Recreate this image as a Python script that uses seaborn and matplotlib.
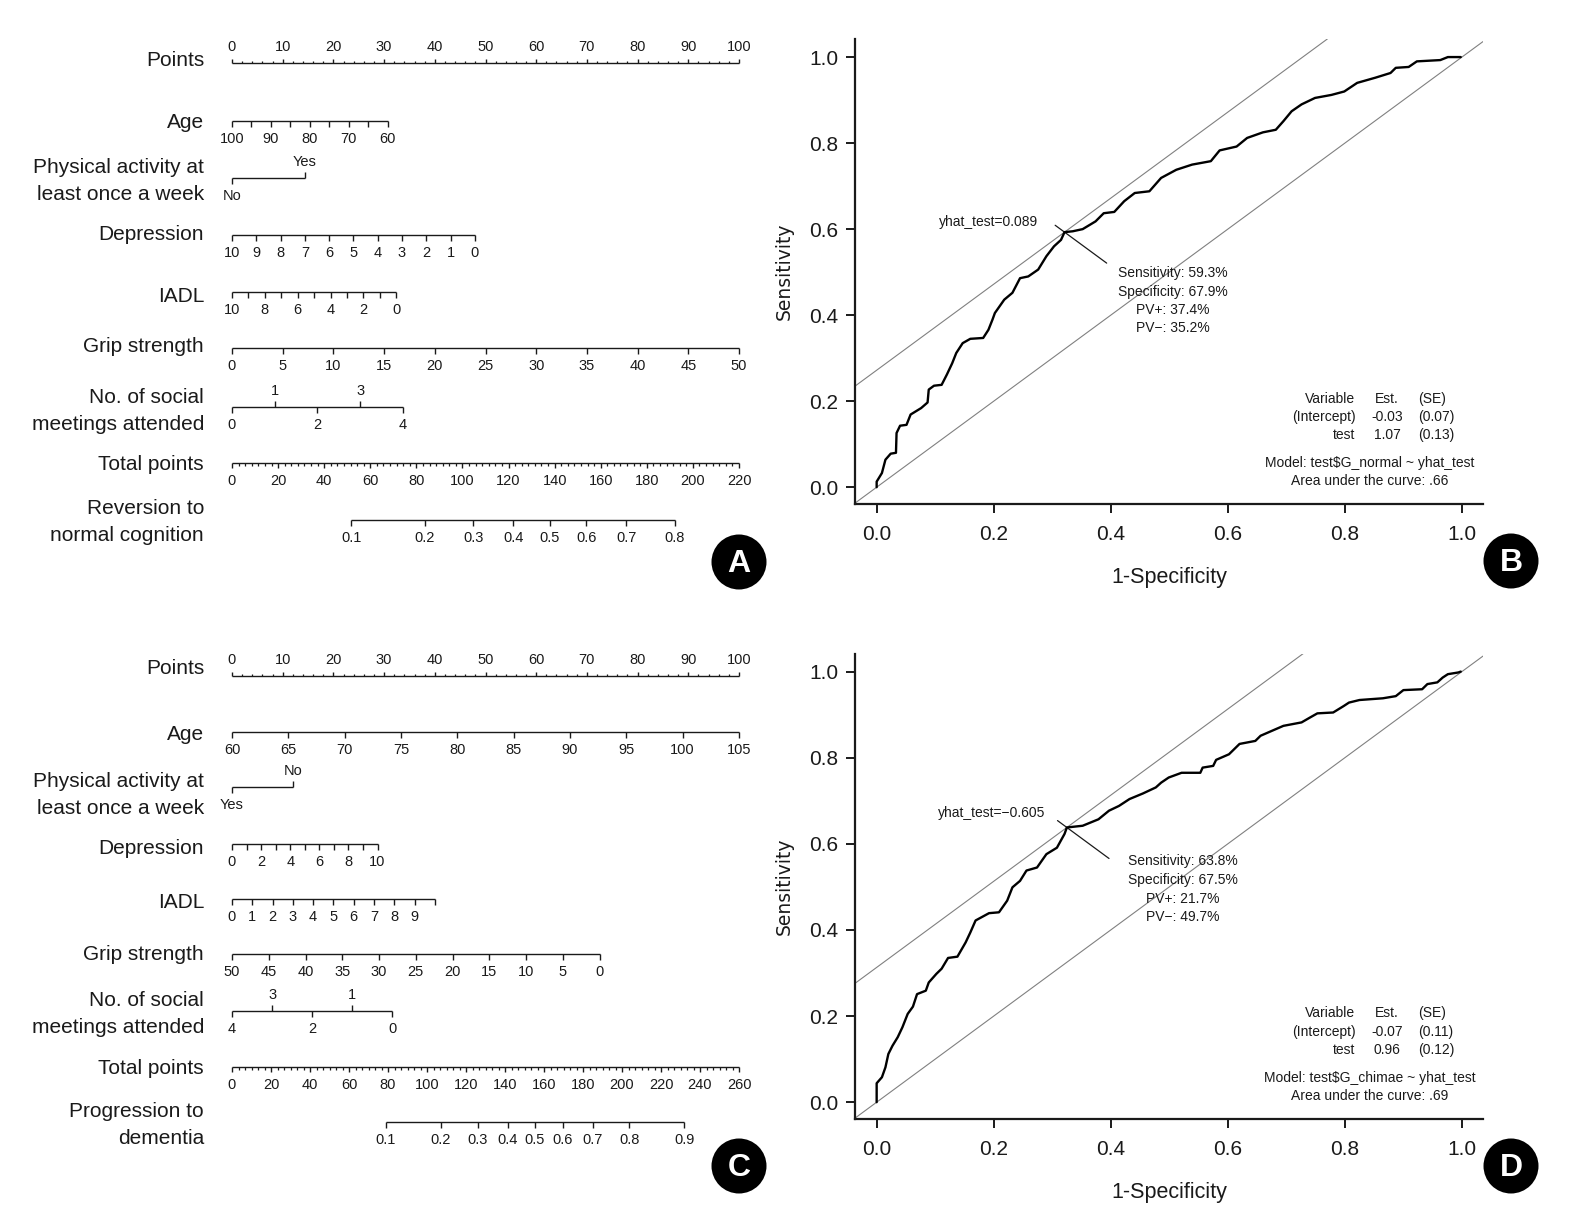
import numpy as np
import matplotlib
matplotlib.use("Agg")
import matplotlib.pyplot as plt
from matplotlib import font_manager
from matplotlib.patches import Circle
import seaborn as sns

sns.set_theme(style="ticks")
installed = {f.name for f in font_manager.fontManager.ttflist}
REG = "Liberation Sans" if "Liberation Sans" in installed else "DejaVu Sans"
HAS_NARROW = "Liberation Sans Narrow" in installed
NARROW = "Liberation Sans Narrow" if HAS_NARROW else REG
plt.rcParams["font.family"] = [REG, "DejaVu Sans"]

# ---------------- nomogram A : reversion to normal cognition ----------------
A_AGE_TICKS = [100, 95, 90, 85, 80, 75, 70, 65, 60]
A_AGE_LABELS = [100, 90, 80, 70, 60]
A_AGE_PTS = 30.7                      # points given at age 60 (age 100 = 0)
A_PA_LEVELS = ["No", "Yes"]
A_PA_PTS = [0.0, 14.4]
A_DEP_TICKS = [10, 9, 8, 7, 6, 5, 4, 3, 2, 1, 0]
A_DEP_PTS = 47.9                      # points at depression 0
A_IADL_TICKS = [10, 9, 8, 7, 6, 5, 4, 3, 2, 1, 0]
A_IADL_LABELS = [10, 8, 6, 4, 2, 0]
A_IADL_PTS = 32.4
A_GRIP_TICKS = [0, 5, 10, 15, 20, 25, 30, 35, 40, 45, 50]
A_GRIP_PTS = 100.0
A_SOC_TICKS = [0, 1, 2, 3, 4]
A_SOC_PTS = 33.7
A_TOTAL_TICKS = [0, 20, 40, 60, 80, 100, 120, 140, 160, 180, 200, 220]
A_PROB_TICKS = [0.1, 0.2, 0.3, 0.4, 0.5, 0.6, 0.7, 0.8]
A_LP = (137.9, 39.2)                  # total points at logit 0, per logit unit
A_NAMES = ["Points", "Age", "Physical activity at\nleast once a week", "Depression",
           "IADL", "Grip strength", "No. of social\nmeetings attended", "Total points",
           "Reversion to\nnormal cognition"]

# ---------------- nomogram C : progression to dementia ----------------
C_AGE_TICKS = [60, 65, 70, 75, 80, 85, 90, 95, 100, 105]
C_PA_LEVELS = ["Yes", "No"]
C_PA_PTS = [0.0, 12.0]
C_DEP_TICKS = [0, 1, 2, 3, 4, 5, 6, 7, 8, 9, 10]
C_DEP_LABELS = [0, 2, 4, 6, 8, 10]
C_DEP_PTS = 28.7
C_IADL_TICKS = [0, 1, 2, 3, 4, 5, 6, 7, 8, 9, 10]
C_IADL_LABELS = [0, 1, 2, 3, 4, 5, 6, 7, 8, 9]
C_IADL_PTS = 40.0
C_GRIP_TICKS = [50, 45, 40, 35, 30, 25, 20, 15, 10, 5, 0]
C_GRIP_PTS = 72.5
C_SOC_TICKS = [4, 3, 2, 1, 0]
C_SOC_PTS = 31.6
C_TOTAL_TICKS = [0, 20, 40, 60, 80, 100, 120, 140, 160, 180, 200, 220, 240, 260]
C_PROB_TICKS = [0.1, 0.2, 0.3, 0.4, 0.5, 0.6, 0.7, 0.8, 0.9]
C_LP = (155.4, 34.8)
C_NAMES = ["Points", "Age", "Physical activity at\nleast once a week", "Depression",
           "IADL", "Grip strength", "No. of social\nmeetings attended", "Total points",
           "Progression to\ndementia"]

# ---------------- ROC B ----------------
B_FPR = [0.0, 0.0, 0.009, 0.015, 0.024, 0.033, 0.034, 0.040, 0.051, 0.058, 0.076, 0.087,
         0.089, 0.098, 0.111, 0.120, 0.129, 0.136, 0.147, 0.160, 0.182, 0.191, 0.198,
         0.202, 0.218, 0.232, 0.245, 0.259, 0.276, 0.290, 0.303, 0.315, 0.321, 0.335,
         0.352, 0.374, 0.388, 0.406, 0.423, 0.441, 0.466, 0.486, 0.512, 0.539, 0.571,
         0.586, 0.615, 0.633, 0.660, 0.682, 0.695, 0.709, 0.726, 0.749, 0.777, 0.799,
         0.821, 0.852, 0.878, 0.887, 0.909, 0.923, 0.963, 0.976, 0.998]
B_TPR = [0.0, 0.013, 0.033, 0.064, 0.078, 0.080, 0.126, 0.143, 0.145, 0.169, 0.184, 0.197,
         0.227, 0.236, 0.238, 0.262, 0.288, 0.312, 0.335, 0.345, 0.347, 0.366, 0.390,
         0.405, 0.436, 0.452, 0.486, 0.490, 0.506, 0.537, 0.560, 0.575, 0.593, 0.595,
         0.600, 0.618, 0.637, 0.640, 0.665, 0.684, 0.688, 0.719, 0.738, 0.750, 0.758,
         0.783, 0.792, 0.812, 0.825, 0.831, 0.851, 0.874, 0.890, 0.905, 0.912, 0.920,
         0.940, 0.952, 0.963, 0.975, 0.977, 0.990, 0.993, 1.0, 1.0]
B_CUT = 0.089
B_STATS = [59.3, 67.9, 37.4, 35.2]    # sensitivity, specificity, PV+, PV-
B_COEF_NAMES = ["(Intercept)", "test"]
B_EST = [-0.03, 1.07]
B_SE = [0.07, 0.13]
B_MODEL = "test$G_normal ~ yhat_test"
B_AUC = 0.66

# ---------------- ROC D ----------------
D_FPR = [0.0, 0.0, 0.009, 0.015, 0.020, 0.027, 0.036, 0.044, 0.053, 0.062, 0.069, 0.084,
         0.089, 0.102, 0.111, 0.122, 0.138, 0.152, 0.160, 0.169, 0.192, 0.209, 0.223,
         0.232, 0.245, 0.256, 0.274, 0.290, 0.308, 0.321, 0.325, 0.352, 0.379, 0.397,
         0.414, 0.432, 0.455, 0.477, 0.486, 0.499, 0.521, 0.553, 0.557, 0.575, 0.580,
         0.602, 0.620, 0.647, 0.656, 0.678, 0.695, 0.726, 0.740, 0.753, 0.780, 0.798,
         0.807, 0.825, 0.865, 0.887, 0.900, 0.932, 0.941, 0.958, 0.967, 0.976, 0.994,
         0.998]
D_TPR = [0.0, 0.044, 0.058, 0.081, 0.112, 0.131, 0.151, 0.174, 0.205, 0.222, 0.251, 0.259,
         0.278, 0.298, 0.310, 0.335, 0.338, 0.371, 0.394, 0.422, 0.439, 0.441, 0.468,
         0.499, 0.514, 0.538, 0.545, 0.576, 0.591, 0.623, 0.638, 0.642, 0.657, 0.677,
         0.688, 0.704, 0.717, 0.731, 0.742, 0.754, 0.765, 0.765, 0.777, 0.781, 0.795,
         0.808, 0.832, 0.839, 0.851, 0.864, 0.874, 0.882, 0.893, 0.903, 0.905, 0.920,
         0.928, 0.934, 0.938, 0.943, 0.957, 0.959, 0.971, 0.975, 0.986, 0.994, 0.998,
         1.0]
D_CUT = -0.605
D_STATS = [63.8, 67.5, 21.7, 49.7]
D_COEF_NAMES = ["(Intercept)", "test"]
D_EST = [-0.07, 0.96]
D_SE = [0.11, 0.12]
D_MODEL = "test$G_chimae ~ yhat_test"
D_AUC = 0.69

ROC_TICKS = [0.0, 0.2, 0.4, 0.6, 0.8, 1.0]

# ---------------- styling ----------------
INK = "#1a1a1a"
TICK_FS = 12.5 if HAS_NARROW else 10.5
ANN_FS = 11.5 if HAS_NARROW else 10.0
ROW_FS = 15
PX_PER_PT = 5.07
X0_PX = 232
W, H = 1588, 1219


def to_pts(vals, v_start, v_end, p_end):
    v = np.asarray(vals, dtype=float)
    return (v - v_start) / (v_end - v_start) * p_end


def logit(p):
    p = np.asarray(p, dtype=float)
    return np.log(p / (1 - p))


def scale_row(ax, y, pos, labels, sides, ticklen=6, minor=None, minor_len=3):
    pos = np.asarray(pos, dtype=float)
    ax.hlines(y, pos.min(), pos.max(), color=INK, lw=1.0)
    for p, lab, s in zip(pos, labels, sides):
        d = ticklen if s == "below" else -ticklen
        ax.vlines(p, y, y + d, color=INK, lw=1.0)
        if lab != "":
            ty = y + 18 if s == "below" else y - 16
            ax.text(p, ty, lab, ha="center", va="center", fontsize=TICK_FS,
                    family=NARROW, color=INK)
    if minor is not None:
        d = minor_len if sides[0] == "below" else -minor_len
        ax.vlines(minor, y, y + d, color=INK, lw=0.9)


def nomogram(ax, rows_y, label_y, names, rows):
    for name, ly in zip(names, label_y):
        ax.text((204 - X0_PX) / PX_PER_PT, ly, name, ha="right", va="center",
                fontsize=ROW_FS, family=REG, color=INK, linespacing=1.5,
                multialignment="right")
    for y, r in zip(rows_y, rows):
        scale_row(ax, y, **r)


def labs(ticks, shown):
    return [str(t) if t in shown else "" for t in ticks]


fig = plt.figure(figsize=(W / 100, H / 100), dpi=100)
ax_nom = fig.add_axes([0, 0, 770 / W, 1])
ax_nom.set_xlim(-X0_PX / PX_PER_PT, (770 - X0_PX) / PX_PER_PT)
ax_nom.set_ylim(H, 0)
ax_nom.axis("off")

points_major = np.arange(0, 101, 10)
points_minor = [p for p in np.arange(0, 101, 2) if p % 10]


def total_minor(ticks, sub):
    out = []
    for a, b in zip(ticks[:-1], ticks[1:]):
        out.extend(np.linspace(a, b, sub + 1)[1:-1])
    return np.array(out)


a_total_pos = np.array(A_TOTAL_TICKS) * 100 / A_TOTAL_TICKS[-1]
a_prob_pos = (A_LP[0] + A_LP[1] * logit(A_PROB_TICKS)) * 100 / A_TOTAL_TICKS[-1]
rows_a = [
    dict(pos=points_major, labels=[str(v) for v in points_major], sides=["above"] * 11,
         ticklen=4, minor=points_minor, minor_len=2.5),
    dict(pos=to_pts(A_AGE_TICKS, 100, 60, A_AGE_PTS), labels=labs(A_AGE_TICKS, A_AGE_LABELS),
         sides=["below"] * len(A_AGE_TICKS)),
    dict(pos=A_PA_PTS, labels=A_PA_LEVELS, sides=["below", "above"]),
    dict(pos=to_pts(A_DEP_TICKS, 10, 0, A_DEP_PTS), labels=[str(v) for v in A_DEP_TICKS],
         sides=["below"] * len(A_DEP_TICKS)),
    dict(pos=to_pts(A_IADL_TICKS, 10, 0, A_IADL_PTS), labels=labs(A_IADL_TICKS, A_IADL_LABELS),
         sides=["below"] * len(A_IADL_TICKS)),
    dict(pos=to_pts(A_GRIP_TICKS, 0, 50, A_GRIP_PTS), labels=[str(v) for v in A_GRIP_TICKS],
         sides=["below"] * len(A_GRIP_TICKS)),
    dict(pos=to_pts(A_SOC_TICKS, 0, 4, A_SOC_PTS), labels=[str(v) for v in A_SOC_TICKS],
         sides=["below" if v % 2 == 0 else "above" for v in A_SOC_TICKS]),
    dict(pos=a_total_pos, labels=[str(v) for v in A_TOTAL_TICKS],
         sides=["below"] * len(A_TOTAL_TICKS), ticklen=5,
         minor=total_minor(a_total_pos, 7), minor_len=3),
    dict(pos=a_prob_pos, labels=[f"{p:.1f}" for p in A_PROB_TICKS],
         sides=["below"] * len(A_PROB_TICKS)),
]
nomogram(ax_nom, [63, 121, 178, 235, 292, 348, 407, 463, 520],
         [61, 123, 181, 234, 296, 347, 411, 465, 522], A_NAMES, rows_a)

c_total_pos = np.array(C_TOTAL_TICKS) * 100 / C_TOTAL_TICKS[-1]
c_prob_pos = (C_LP[0] + C_LP[1] * logit(C_PROB_TICKS)) * 100 / C_TOTAL_TICKS[-1]
rows_c = [
    dict(pos=points_major, labels=[str(v) for v in points_major], sides=["above"] * 11,
         ticklen=4, minor=points_minor, minor_len=2.5),
    dict(pos=to_pts(C_AGE_TICKS, 60, 105, 100), labels=[str(v) for v in C_AGE_TICKS],
         sides=["below"] * len(C_AGE_TICKS)),
    dict(pos=C_PA_PTS, labels=C_PA_LEVELS, sides=["below", "above"]),
    dict(pos=to_pts(C_DEP_TICKS, 0, 10, C_DEP_PTS), labels=labs(C_DEP_TICKS, C_DEP_LABELS),
         sides=["below"] * len(C_DEP_TICKS)),
    dict(pos=to_pts(C_IADL_TICKS, 0, 10, C_IADL_PTS), labels=labs(C_IADL_TICKS, C_IADL_LABELS),
         sides=["below"] * len(C_IADL_TICKS)),
    dict(pos=to_pts(C_GRIP_TICKS, 50, 0, C_GRIP_PTS), labels=[str(v) for v in C_GRIP_TICKS],
         sides=["below"] * len(C_GRIP_TICKS)),
    dict(pos=to_pts(C_SOC_TICKS, 4, 0, C_SOC_PTS), labels=[str(v) for v in C_SOC_TICKS],
         sides=["below" if v % 2 == 0 else "above" for v in C_SOC_TICKS]),
    dict(pos=c_total_pos, labels=[str(v) for v in C_TOTAL_TICKS],
         sides=["below"] * len(C_TOTAL_TICKS), ticklen=5,
         minor=total_minor(c_total_pos, 6), minor_len=3),
    dict(pos=c_prob_pos, labels=[f"{p:.1f}" for p in C_PROB_TICKS],
         sides=["below"] * len(C_PROB_TICKS)),
]
nomogram(ax_nom, [676, 732, 787, 844, 899, 954, 1011, 1067, 1122],
         [668, 735, 795, 849, 903, 955, 1014, 1069, 1125], C_NAMES, rows_c)


def roc_panel(ax, fpr, tpr, cut, stats, names, est, se, model, auc, cut_txt_xy, stat_xy):
    sens, spec = stats[0] / 100, stats[1] / 100
    cx, cy = 1 - spec, sens
    ax.axline((0, 0), slope=1, color="#808080", lw=0.8, zorder=1)
    ax.axline((0, sens - (1 - spec)), slope=1, color="#808080", lw=0.8, zorder=1)
    sns.lineplot(x=fpr, y=tpr, ax=ax, color="black", lw=1.7, sort=False,
                 estimator=None, zorder=3)
    ax.plot([cx - 0.016, cx + 0.072], [cy + 0.016, cy - 0.072], color=INK, lw=0.9)
    ax.text(*cut_txt_xy, "yhat_test=" + f"{cut:.3f}".replace("-", "\u2212"),
            ha="center", va="center", fontsize=ANN_FS, family=NARROW, color=INK)
    lines = [f"Sensitivity: {stats[0]:.1f}%", f"Specificity: {stats[1]:.1f}%",
             f"PV+: {stats[2]:.1f}%", f"PV\u2212: {stats[3]:.1f}%"]
    for i, t in enumerate(lines):
        ax.text(stat_xy[0], stat_xy[1] - 0.043 * i, t, ha="center", va="center",
                fontsize=ANN_FS, family=NARROW, color=INK)
    rows = [("Variable", "Est.", "(SE)")] + [
        (n, f"{e:.2f}", f"({s:.2f})") for n, e, s in zip(names, est, se)]
    for i, (a, b, c) in enumerate(rows):
        y = 0.206 - 0.0425 * i
        kw = dict(va="center", fontsize=ANN_FS, family=NARROW, color=INK)
        ax.text(0.818, y, a, ha="right", **kw)
        ax.text(0.872, y, b, ha="center", **kw)
        ax.text(0.926, y, c, ha="left", **kw)
    ax.text(0.842, 0.057, "Model: " + model.replace("$", r"\$"), ha="center", va="center",
            fontsize=ANN_FS, family=NARROW, color=INK)
    ax.text(0.842, 0.014, "Area under the curve: " + f"{auc:.2f}".lstrip("0"),
            ha="center", va="center", fontsize=ANN_FS, family=NARROW, color=INK)

    ax.set_xlim(-0.037, 1.036)
    ax.set_ylim(-0.039, 1.042)
    ax.set_xticks(ROC_TICKS)
    ax.set_yticks(ROC_TICKS)
    ax.set_xticklabels([f"{t:.1f}" for t in ROC_TICKS], fontsize=15, family=REG)
    ax.set_yticklabels([f"{t:.1f}" for t in ROC_TICKS], fontsize=15, family=REG)
    ax.tick_params(axis="both", direction="out", length=6.5, width=1.4, color=INK,
                   labelcolor=INK)
    ax.tick_params(axis="x", pad=8.5)
    ax.tick_params(axis="y", pad=5.5)
    sns.despine(ax=ax)
    for s in ("left", "bottom"):
        ax.spines[s].set_linewidth(1.6)
        ax.spines[s].set_color(INK)
    ax.set_xlabel("1-Specificity", fontsize=15.5, family=REG, color=INK)
    ax.set_ylabel("Sensitivity", fontsize=13.5, family="DejaVu Sans", color=INK)
    ax.xaxis.set_label_coords(0.5, -0.135)
    ax.yaxis.set_label_coords(-0.098, 0.5)
    ax.grid(False)


ax_b = fig.add_axes([855 / W, 1 - 504 / H, 628 / W, 465 / H])
roc_panel(ax_b, B_FPR, B_TPR, B_CUT, B_STATS, B_COEF_NAMES, B_EST, B_SE, B_MODEL, B_AUC,
          (0.191, 0.617), (0.506, 0.498))
ax_d = fig.add_axes([855 / W, 1 - 1119 / H, 628 / W, 465.5 / H])
roc_panel(ax_d, D_FPR, D_TPR, D_CUT, D_STATS, D_COEF_NAMES, D_EST, D_SE, D_MODEL, D_AUC,
          (0.196, 0.671), (0.523, 0.559))

# panel letters
for letter, (px, py) in zip("ABCD", [(739, 562), (1511, 561), (739, 1166), (1511, 1166)]):
    xi, yi = px / 100, (H - py) / 100
    fig.add_artist(Circle((xi, yi), 0.275, transform=fig.dpi_scale_trans,
                          facecolor="black", edgecolor="none"))
    fig.text(xi, yi - 0.02, letter, transform=fig.dpi_scale_trans, ha="center",
             va="center", color="white", fontsize=23, fontweight="bold", family=REG)

fig.savefig("out.png", dpi=100)
